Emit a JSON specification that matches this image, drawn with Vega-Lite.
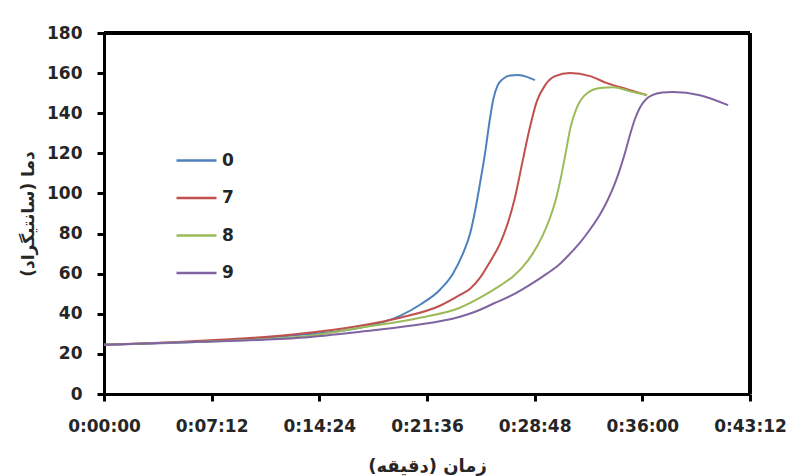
{
  "$schema": "https://vega.github.io/schema/vega-lite/v6.json",
  "width": 646,
  "height": 361,
  "autosize": {"type": "none"},
  "padding": {"left": 104, "top": 33, "right": 41, "bottom": 82},
  "background": "white",
  "config": {
    "font": "DejaVu Sans",
    "view": {"stroke": null}
  },
  "data": {
    "values": [
      {"t": 0, "temp": 24.5, "series": "0"},
      {"t": 385, "temp": 26, "series": "0"},
      {"t": 786, "temp": 29.5, "series": "0"},
      {"t": 1027, "temp": 33, "series": "0"},
      {"t": 1188, "temp": 39, "series": "0"},
      {"t": 1268, "temp": 44.5, "series": "0"},
      {"t": 1348, "temp": 52, "series": "0"},
      {"t": 1400, "temp": 60, "series": "0"},
      {"t": 1440, "temp": 70, "series": "0"},
      {"t": 1469, "temp": 80, "series": "0"},
      {"t": 1490, "temp": 92, "series": "0"},
      {"t": 1510, "temp": 106, "series": "0"},
      {"t": 1530, "temp": 121, "series": "0"},
      {"t": 1547, "temp": 136, "series": "0"},
      {"t": 1562, "temp": 147, "series": "0"},
      {"t": 1580, "temp": 154, "series": "0"},
      {"t": 1600, "temp": 157, "series": "0"},
      {"t": 1630, "temp": 158.8, "series": "0"},
      {"t": 1660, "temp": 159, "series": "0"},
      {"t": 1700, "temp": 158, "series": "0"},
      {"t": 1729, "temp": 156.5, "series": "0"},

      {"t": 0, "temp": 24.5, "series": "7"},
      {"t": 385, "temp": 26.5, "series": "7"},
      {"t": 786, "temp": 30, "series": "7"},
      {"t": 1027, "temp": 34, "series": "7"},
      {"t": 1188, "temp": 38, "series": "7"},
      {"t": 1348, "temp": 44, "series": "7"},
      {"t": 1430, "temp": 49.5, "series": "7"},
      {"t": 1469, "temp": 52.5, "series": "7"},
      {"t": 1509, "temp": 58, "series": "7"},
      {"t": 1549, "temp": 66, "series": "7"},
      {"t": 1589, "temp": 75, "series": "7"},
      {"t": 1617, "temp": 84, "series": "7"},
      {"t": 1649, "temp": 98, "series": "7"},
      {"t": 1681, "temp": 117, "series": "7"},
      {"t": 1709, "temp": 133, "series": "7"},
      {"t": 1737, "temp": 146, "series": "7"},
      {"t": 1770, "temp": 154, "series": "7"},
      {"t": 1810, "temp": 158.5, "series": "7"},
      {"t": 1870, "temp": 160, "series": "7"},
      {"t": 1950, "temp": 158.5, "series": "7"},
      {"t": 2018, "temp": 155, "series": "7"},
      {"t": 2098, "temp": 152, "series": "7"},
      {"t": 2179, "temp": 149, "series": "7"},

      {"t": 0, "temp": 24.5, "series": "8"},
      {"t": 385, "temp": 26, "series": "8"},
      {"t": 786, "temp": 28.5, "series": "8"},
      {"t": 1027, "temp": 33, "series": "8"},
      {"t": 1268, "temp": 38, "series": "8"},
      {"t": 1428, "temp": 43, "series": "8"},
      {"t": 1509, "temp": 48, "series": "8"},
      {"t": 1589, "temp": 54, "series": "8"},
      {"t": 1640, "temp": 58.5, "series": "8"},
      {"t": 1681, "temp": 63.5, "series": "8"},
      {"t": 1720, "temp": 70, "series": "8"},
      {"t": 1760, "temp": 79, "series": "8"},
      {"t": 1790, "temp": 88, "series": "8"},
      {"t": 1815, "temp": 98, "series": "8"},
      {"t": 1835, "temp": 109, "series": "8"},
      {"t": 1855, "temp": 122, "series": "8"},
      {"t": 1872, "temp": 133, "series": "8"},
      {"t": 1898, "temp": 143, "series": "8"},
      {"t": 1938, "temp": 150, "series": "8"},
      {"t": 1990, "temp": 152.6, "series": "8"},
      {"t": 2042, "temp": 153, "series": "8"},
      {"t": 2110, "temp": 151, "series": "8"},
      {"t": 2179, "temp": 149, "series": "8"},

      {"t": 0, "temp": 24.5, "series": "9"},
      {"t": 385, "temp": 26, "series": "9"},
      {"t": 786, "temp": 28, "series": "9"},
      {"t": 1027, "temp": 31, "series": "9"},
      {"t": 1228, "temp": 34, "series": "9"},
      {"t": 1428, "temp": 38.5, "series": "9"},
      {"t": 1509, "temp": 42, "series": "9"},
      {"t": 1561, "temp": 45, "series": "9"},
      {"t": 1641, "temp": 49.5, "series": "9"},
      {"t": 1710, "temp": 54.5, "series": "9"},
      {"t": 1777, "temp": 60, "series": "9"},
      {"t": 1830, "temp": 65, "series": "9"},
      {"t": 1870, "temp": 70, "series": "9"},
      {"t": 1910, "temp": 75.5, "series": "9"},
      {"t": 1950, "temp": 82, "series": "9"},
      {"t": 1990, "temp": 89.5, "series": "9"},
      {"t": 2022, "temp": 97, "series": "9"},
      {"t": 2050, "temp": 105, "series": "9"},
      {"t": 2070, "temp": 112, "series": "9"},
      {"t": 2090, "temp": 120, "series": "9"},
      {"t": 2110, "temp": 129, "series": "9"},
      {"t": 2130, "temp": 137, "series": "9"},
      {"t": 2151, "temp": 143, "series": "9"},
      {"t": 2175, "temp": 147, "series": "9"},
      {"t": 2200, "temp": 149, "series": "9"},
      {"t": 2240, "temp": 150.3, "series": "9"},
      {"t": 2283, "temp": 150.6, "series": "9"},
      {"t": 2391, "temp": 149, "series": "9"},
      {"t": 2504, "temp": 144, "series": "9"}
    ]
  },
  "layer": [
    {
      "mark": {"type": "line", "interpolate": "monotone", "strokeWidth": 2},
      "encoding": {
        "x": {
          "field": "t",
          "type": "quantitative",
          "scale": {"domain": [0, 2592], "nice": false, "zero": false},
          "axis": {
            "title": "زمان (دقیقه)",
            "values": [0, 432, 864, 1296, 1728, 2160, 2592],
            "labelExpr": "utcFormat(datum.value * 1000, '%-H:%M:%S')",
            "grid": false,
            "domainColor": "#000000",
            "domainWidth": 3,
            "tickColor": "#000000",
            "tickWidth": 3,
            "tickSize": 7,
            "labelFont": "DejaVu Sans",
            "labelFontSize": 17,
            "labelFontWeight": "bold",
            "labelColor": "#262626",
            "labelPadding": 17,
            "labelFlush": false,
            "titleFont": "DejaVu Sans",
            "titleFontSize": 18,
            "titleFontWeight": "bold",
            "titleColor": "#262626",
            "titlePadding": 23
          }
        },
        "y": {
          "field": "temp",
          "type": "quantitative",
          "scale": {"domain": [0, 180], "nice": false},
          "axis": {
            "title": "دما (سانتیگراد)",
            "values": [0, 20, 40, 60, 80, 100, 120, 140, 160, 180],
            "grid": false,
            "domainColor": "#000000",
            "domainWidth": 3,
            "tickColor": "#000000",
            "tickWidth": 3,
            "tickSize": 7,
            "labelFont": "DejaVu Sans",
            "labelFontSize": 17,
            "labelFontWeight": "bold",
            "labelColor": "#262626",
            "labelPadding": 15,
            "labelFlush": false,
            "titleFont": "DejaVu Sans",
            "titleFontSize": 17,
            "titleFontWeight": "bold",
            "titleColor": "#262626",
            "titlePadding": 9
          }
        },
        "color": {
          "field": "series",
          "type": "nominal",
          "scale": {
            "domain": ["0", "7", "8", "9"],
            "range": ["#4F81BD", "#C0504D", "#9BBB59", "#8064A2"]
          },
          "legend": {
            "title": null,
            "orient": "none",
            "legendX": 71,
            "legendY": 106,
            "symbolType": "stroke",
            "symbolSize": 1600,
            "symbolStrokeWidth": 2.5,
            "labelFont": "DejaVu Sans",
            "labelFontSize": 17,
            "labelFontWeight": "bold",
            "labelColor": "#262626",
            "labelOffset": 4,
            "rowPadding": 7.5
          }
        }
      }
    },
    {
      "mark": {"type": "rule", "color": "#000000", "strokeWidth": 3},
      "encoding": {"y": {"datum": 180}}
    },
    {
      "mark": {"type": "rule", "color": "#000000", "strokeWidth": 3},
      "encoding": {"x": {"datum": 2592}}
    }
  ]
}
